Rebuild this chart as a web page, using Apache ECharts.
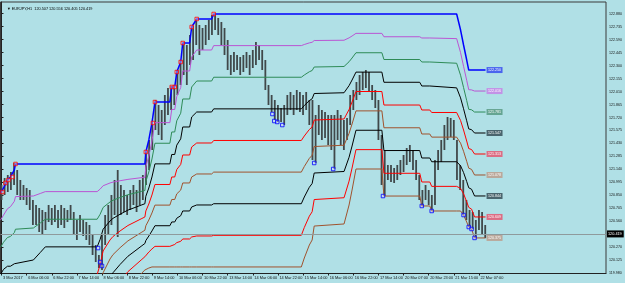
<!DOCTYPE html>
<html><head><meta charset="utf-8">
<script src="https://cdn.jsdelivr.net/npm/echarts@6/dist/echarts.min.js"></script>
<style>html,body{margin:0;padding:0;background:#B0E0E6}#c{width:625px;height:283px}</style>
</head><body><div id="c"></div><script>
const titleText = '\u25BC EURJPY,H1  120.507 120.556 120.405 120.419';
const xTickBars = [0,16,32,48,64,80,96,112,128,144,160,176,192,208,224,240,256,272,288,304];
const xTickLabels = ['3 Mar 2017','6 Mar 06:00','6 Mar 22:00','7 Mar 14:00','8 Mar 06:00','8 Mar 22:00','9 Mar 14:00','10 Mar 06:00','10 Mar 22:00','13 Mar 14:00','14 Mar 06:00','14 Mar 22:00','15 Mar 14:00','16 Mar 06:00','16 Mar 22:00','17 Mar 14:00','20 Mar 07:00','20 Mar 23:00','21 Mar 15:00','22 Mar 07:00'];
const yTickLabels = ['119.980','120.125','120.270','120.560','120.705','120.850','120.995','121.140','121.285','121.430','121.575','121.720','121.865','122.010','122.155','122.300','122.445','122.590','122.735','122.880'];
const lastPrice = 120.419;

// price: one entry per 2 H1 bars (bar index = 2*k)
const barHigh = [120.966,121.044,121.078,121.111,121.212,121.134,121.022,120.966,120.933,120.910,
120.799,120.743,120.709,120.687,120.665,120.743,120.709,120.743,120.687,120.743,
120.709,120.687,120.743,120.665,120.575,120.631,120.575,120.553,120.520,120.408,
120.296,120.185,120.408,120.631,120.743,120.855,121.022,121.134,120.966,120.910,
120.855,120.910,120.966,120.910,121.022,121.078,121.335,121.469,121.670,121.915,
121.860,121.804,121.971,122.049,122.072,122.083,122.250,122.362,122.563,122.530,
122.641,122.742,122.820,122.753,122.719,122.753,122.809,122.865,122.876,122.831,
122.786,122.719,122.585,122.418,122.451,122.418,122.396,122.418,122.451,122.418,
122.474,122.563,122.530,122.474,122.362,122.083,121.971,121.915,121.860,121.826,
121.860,121.971,122.005,121.971,122.027,122.005,121.971,122.005,121.915,121.915,
121.748,121.860,121.804,121.781,121.748,121.748,121.748,121.804,121.748,121.692,
121.714,121.971,122.027,122.116,122.195,122.228,122.250,122.228,122.083,122.027,
121.915,121.525,121.357,121.190,121.190,121.156,121.190,121.245,121.301,121.379,
121.413,121.357,121.245,121.078,120.910,120.966,120.910,120.855,121.245,121.357,
121.469,121.636,121.726,121.714,121.692,121.469,121.190,121.022,120.799,120.687,
120.665,120.575,120.687,120.665,120.520];
const barLow = [120.799,120.855,120.888,120.910,120.966,120.855,120.799,120.799,120.743,120.687,
120.520,120.520,120.441,120.408,120.464,120.553,120.520,120.553,120.486,120.520,
120.486,120.553,120.575,120.408,120.352,120.441,120.397,120.352,120.296,120.185,
120.106,120.039,120.017,120.296,120.408,120.520,120.631,120.386,120.631,120.665,
120.631,120.687,120.743,120.665,120.743,120.799,120.966,121.134,121.357,121.580,
121.525,121.469,121.636,121.748,121.804,121.860,121.971,122.083,122.195,122.083,
122.306,122.362,122.530,122.418,122.474,122.530,122.585,122.641,122.697,122.641,
122.530,122.418,122.250,122.195,122.228,122.250,122.195,122.228,122.273,122.195,
122.273,122.306,122.362,122.250,122.027,121.860,121.781,121.692,121.670,121.670,
121.636,121.748,121.804,121.748,121.804,121.781,121.748,121.804,121.636,121.245,
121.212,121.525,121.469,121.491,121.413,121.357,121.145,121.469,121.413,121.357,
121.469,121.636,121.804,121.915,121.971,122.027,122.049,122.005,121.915,121.826,
121.469,120.966,120.843,121.022,121.000,120.989,121.022,121.078,121.111,121.190,
121.223,121.134,121.022,120.799,120.732,120.799,120.743,120.676,120.743,121.134,
121.223,121.357,121.469,121.502,121.469,121.022,120.910,120.631,120.575,120.497,
120.475,120.375,120.464,120.408,120.375];

// channel (upper and lower bound) read at the same bar positions
const chanBar = [-0.6,1.3,3.8,5.7,8.2,8.9,20.3,24.7,27.9,60.9,
62.8,64.7,69.1,71.0,75.5,80.5,85.0,89.4,91.3,91.9,
93.8,95.8,97.7,107.2,108.4,110.3,111.6,114.1,115.4,119.8,
121.1,124.3,133.8,135.1,190.9,192.8,196.0,197.8,199.1,218.1,
221.3,223.2,225.7,242.2,243.5,266.3,267.6,272.7,273.9,289.8,
292.3,294.2,296.2,297.5,299.3,301.2,308.2];
const chanTop = [120.877,120.933,121.022,121.056,121.134,121.201,121.201,121.201,121.201,121.201,
121.201,121.201,121.201,121.201,121.201,121.201,121.201,121.201,121.201,121.335,
121.469,121.659,121.893,121.893,122.061,122.061,122.228,122.340,122.552,122.552,
122.731,122.820,122.820,122.876,122.876,122.876,122.876,122.876,122.876,122.876,
122.876,122.876,122.876,122.876,122.876,122.876,122.876,122.876,122.876,122.876,
122.697,122.530,122.362,122.250,122.250,122.250,122.250];
const chanBottom = [118.454,118.510,118.454,118.398,118.342,118.287,118.342,118.566,118.733,118.733,
118.956,119.258,119.504,119.582,119.705,119.827,119.906,119.984,120.017,120.017,
120.039,120.051,120.051,120.051,120.051,120.051,120.051,120.051,120.051,120.051,
120.051,120.051,120.051,120.051,120.051,120.151,120.296,120.352,120.508,120.531,
120.743,120.910,121.145,121.145,120.843,120.843,120.732,120.732,120.676,120.676,
120.676,120.631,120.553,120.497,120.475,120.375,120.375];
const levelColors = ['#0000FF','#BA55D3','#2E8B57','#000000','#FF0000','#A0522D','#000000','#FF0000','#A0522D'];
const levelLabelBg = ['rgba(40,60,240,0.75)','rgba(200,120,230,0.75)','rgba(70,140,110,0.7)','rgba(40,60,70,0.75)','rgba(240,60,90,0.7)','rgba(190,150,130,0.75)','rgba(40,60,70,0.75)','rgba(240,60,90,0.7)','rgba(190,150,130,0.75)'];

const highMarks = [[0.6,120.888],[2.5,120.989],[4.4,121.022],[7.0,121.056],[8.9,121.201],[91.9,121.335],[96.4,121.659],[97.7,121.893],[108.4,122.061],[110.3,122.061],[111.6,122.228],[114.1,122.340],[115.4,122.552],[121.1,122.731],[124.3,122.820],[135.1,122.876]];
const lowMarks = [[61.5,120.262],[62.8,120.106],[64.0,120.062],[172.5,121.759],[173.7,121.681],[175.6,121.670],[178.8,121.636],[199.1,121.212],[211.2,121.145],[242.9,120.843],[267.6,120.732],[273.9,120.676],[294.2,120.631],[297.5,120.497],[299.3,120.475],[301.2,120.375]];

const FONT = 'Liberation Sans, Arial, sans-serif';
const chart = echarts.init(document.getElementById('c'), null, {renderer:'canvas'});
const priceData = barHigh.map((h,k)=>[2*k, h, barLow[k]]);

const levelSeries = levelColors.map((col, lv) => ({
  type:'line', z: 3, symbol:'none', silent:true, animation:false,
  data: chanBar.map((b,i)=>[b, chanTop[i] - lv/8*(chanTop[i]-chanBottom[i])]),
  lineStyle:{color:col, width: lv===0 ? 1.5 : 1},
  endLabel:{show:true, distance:1, formatter:p=>p.value[1].toFixed(3), color:'#fff', backgroundColor:levelLabelBg[lv], fontSize:3.6, fontFamily:FONT, padding:[1,1.5,1,1.5]}
}));
levelSeries[0].markLine = {symbol:'none', silent:true, animation:false, data:[{yAxis:lastPrice}],
  lineStyle:{color:'#8f9a9c', width:1, type:'solid'},
  label:{position:'end', distance:1, formatter:lastPrice.toFixed(3), color:'#fff', backgroundColor:'#000', fontSize:3.8, fontFamily:FONT, padding:[1.5,2,1.5,1]}};

chart.setOption({
  animation:false,
  backgroundColor:'#B0E0E6',
  title:{text:titleText, left:2, top:2, textStyle:{fontSize:3.8, fontWeight:'normal', color:'#000', fontFamily:FONT}},
  grid:{left:0, right:17, top:2, bottom:9.5, show:true, borderColor:'#3a3a3a', borderWidth:1, backgroundColor:'transparent'},
  xAxis:{type:'value', min:-0.63, max:384.9, splitLine:{show:false},
    axisLine:{show:true, lineStyle:{color:'#222', width:1}},
    axisTick:{show:true, customValues:xTickBars, length:2, lineStyle:{color:'#222'}},
    axisLabel:{customValues:xTickBars, formatter:v=>xTickLabels[xTickBars.indexOf(v)]||'', align:'left', margin:2, fontSize:3.9, color:'#111', fontFamily:FONT, padding:[0,0,0,1.5]}},
  yAxis:{type:'value', position:'right', min:119.978, max:123.010, splitLine:{show:false},
    axisLine:{show:true, lineStyle:{color:'#222', width:1}},
    axisTick:{show:true, customValues:yTickLabels.map(Number), length:2, inside:false, lineStyle:{color:'#222'}},
    axisLabel:{customValues:yTickLabels.map(Number), formatter:v=>v.toFixed(3), margin:3, fontSize:3.6, color:'#111', fontFamily:FONT}},
  series:[
    {type:'custom', z:2, silent:true, data:priceData, clip:true,
     renderItem:(params, api)=>{
       const p1 = api.coord([api.value(0), api.value(1)]);
       const p2 = api.coord([api.value(0), api.value(2)]);
       return {type:'line', shape:{x1:p1[0], y1:p1[1], x2:p1[0], y2:p2[1]}, style:{stroke:'#40484a', lineWidth:1.8}};
     }},
    ...levelSeries,
    {type:'scatter', z:5, silent:true, data:highMarks, symbol:'rect', symbolSize:3.5,
     itemStyle:{color:'rgba(255,220,220,0.5)', borderColor:'#ff0000', borderWidth:1}},
    {type:'scatter', z:5, silent:true, data:lowMarks, symbol:'rect', symbolSize:3.5,
     itemStyle:{color:'rgba(220,220,255,0.5)', borderColor:'#0000ff', borderWidth:1}}
  ]
});
</script></body></html>
